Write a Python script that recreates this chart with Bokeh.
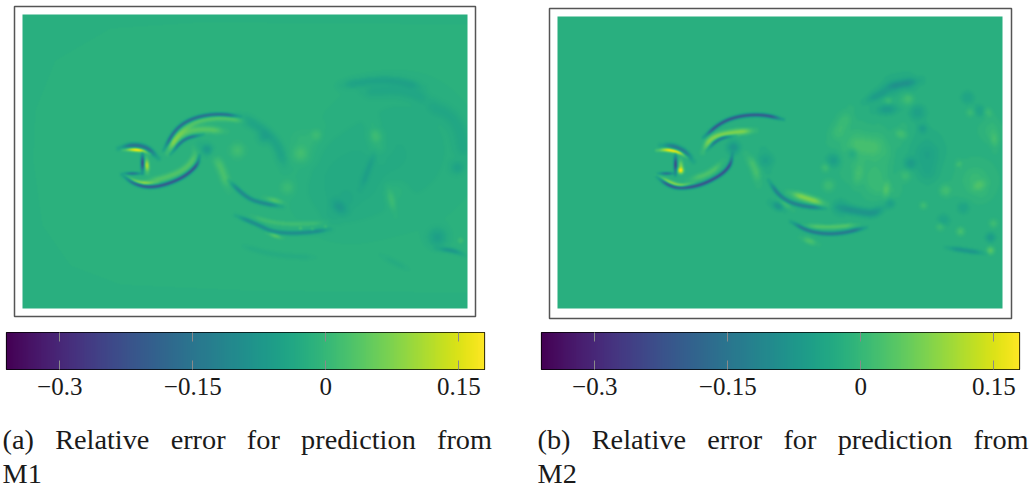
import numpy as np
from bokeh.plotting import figure
from bokeh.models import LinearColorMapper, Range1d, FixedTicker, LinearAxis
from bokeh.palettes import Viridis256
from bokeh.core.properties import value
from bokeh.embed import file_html
from bokeh.resources import INLINE

LOW, HIGH = -0.36, 0.179
TICKS = [-0.3, -0.15, 0, 0.15]
TICK_LABELS = ["\u22120.3", "\u22120.15", "0", "0.15"]
GAP = "\u00a0\u00a0\u00a0"
CAPTION_A = [GAP.join(["(a)", "Relative", "error", "for", "prediction", "from"]), "M1"]
CAPTION_B = [GAP.join(["(b)", "Relative", "error", "for", "prediction", "from"]), "M2"]
BACKGROUND = -0.02

# Error features: (polyline in picture pixels, error value, half width)
STRUCTURES_A = [
    ([(118,148),(133,144),(147,147),(158,158)], -0.16, 1.5),
    ([(122,149),(133,149),(143,150),(150,153)], 0.24, 1.1),
    ([(142,152),(142,173)], -0.30, 0.9),
    ([(146,157),(147,173)], 0.15, 1.4),
    ([(122,173),(142,173)], -0.20, 0.7),
    ([(122,174),(130,180),(143,183),(157,182)], 0.12, 1.3),
    ([(121,174),(133,183),(147,187),(163,185),(183,177),(197,165),(199,155)], -0.25, 1.0),
    ([(145,181),(163,178),(183,170),(195,157),(193,147)], 0.05, 2.2),
    ([(163,150),(175,128),(193,117),(217,113),(240,116)], -0.19, 1.0),
    ([(167,153),(177,133),(197,120),(223,117),(246,121)], 0.05, 1.9),
    ([(170,154),(183,138),(203,134)], -0.17, 0.9),
    ([(167,152),(180,133),(200,128),(226,131)], 0.055, 2.4),
    ([(237,115),(260,127),(277,143),(285,168)], -0.028, 3.5),
    ([(213,153),(222,170),(228,190)], 0.04, 3.2),
    ([(200,145),(213,153)], -0.05, 3.5),
    ([(237,150)], 0.03, 5.0),
    ([(228,180),(247,198),(263,203),(282,206)], -0.10, 1.3),
    ([(263,197),(285,203)], 0.05, 1.9),
    ([(235,215),(257,224),(273,232),(300,233),(330,229)], -0.09, 1.3),
    ([(250,215),(270,222),(295,224),(326,222)], 0.03, 1.7),
    ([(266,232),(283,238)], 0.06, 1.5),
    ([(400,150)], -0.012, 45.0),
    ([(340,185)], -0.012, 30.0),
    ([(305,125),(300,170)], 0.012, 9.0),
    ([(375,125),(378,160)], 0.012, 7.0),
    ([(395,190)], 0.01, 8.0),
    ([(340,85),(387,78),(423,87)], -0.03, 3.0),
    ([(360,92),(400,88),(430,100)], -0.02, 4.0),
    ([(423,103),(457,117),(465,160)], -0.018, 5.0),
    ([(300,153)], 0.025, 5.0),
    ([(320,127),(312,142)], 0.025, 4.0),
    ([(372,125),(378,145)], 0.028, 4.0),
    ([(287,187)], 0.025, 5.0),
    ([(263,137)], -0.025, 4.0),
    ([(387,185),(395,215)], 0.028, 2.8),
    ([(333,213),(345,200)], -0.04, 6.0),
    ([(437,237)], -0.038, 6.0),
    ([(435,248),(453,250),(465,255)], -0.06, 1.5),
    ([(460,240)], 0.03, 2.0),
    ([(457,167)], -0.028, 4.0),
    ([(375,150),(360,190)], -0.025, 2.2),
    ([(240,245),(275,255),(315,257)], -0.012, 1.8),
    ([(380,255),(410,270)], -0.01, 2.0),
    ([(300,228)], 0.045, 1.1),
    ([(312,229)], 0.045, 1.1),
    ([(325,226)], 0.035, 1.1),
]
# faint outline of the outer region in the first panel
OUTER_REGION_A = [(467,24),(200,22),(110,28),(55,60),(35,110),(33,160),(42,225),(70,265),(120,284),(250,290),(467,292)]
OUTER_STEP_A = 0.004

STRUCTURES_B = [
    ([(660,145),(672,145),(685,151),(693,161)], -0.13, 1.6),
    ([(656,150),(667,149),(680,152),(687,157)], 0.24, 1.1),
    ([(675,153),(675,175)], -0.30, 0.9),
    ([(680,158),(681,172)], 0.10, 1.4),
    ([(680,170)], 0.2, 1.9),
    ([(657,173),(675,173)], -0.2, 0.7),
    ([(656,175),(667,181),(680,186),(693,183)], 0.13, 1.3),
    ([(656,176),(668,185),(680,188),(700,185),(720,175),(730,165),(732,153)], -0.26, 1.0),
    ([(687,180),(710,173),(723,160)], 0.05, 2.2),
    ([(703,137),(720,122),(740,115),(763,114),(783,119)], -0.24, 1.0),
    ([(702,152),(710,137),(730,132),(755,130)], 0.10, 2.1),
    ([(706,150),(718,138),(735,135)], -0.17, 0.9),
    ([(745,153),(755,167),(758,185)], 0.04, 3.2),
    ([(733,147)], -0.055, 4.0),
    ([(763,150),(767,170)], -0.03, 5.0),
    ([(768,180),(780,197),(797,205),(825,208)], -0.12, 1.3),
    ([(788,192),(807,198),(826,204)], 0.1, 2.4),
    ([(770,202),(785,209)], -0.06, 2.6),
    ([(777,198),(793,210)], 0.035, 2.2),
    ([(790,221),(810,232),(837,234),(866,227)], -0.14, 1.2),
    ([(803,225),(830,227),(858,224)], 0.055, 1.6),
    ([(800,237),(818,244)], 0.045, 2.2),
    ([(837,207),(863,212),(873,213),(885,206)], -0.06, 2.8),
    ([(840,135),(865,150),(895,145)], 0.018, 14.0),
    ([(860,175),(890,185)], 0.02, 12.0),
    ([(975,180)], 0.018, 14.0),
    ([(990,130)], 0.015, 8.0),
    ([(890,100),(915,95)], 0.012, 8.0),
    ([(880,90),(920,82)], -0.02, 8.0),
    ([(925,150)], -0.012, 14.0),
    ([(850,108),(842,125),(832,142)], 0.025, 5.0),
    ([(845,143),(870,146),(885,150)], 0.025, 7.0),
    ([(903,127),(898,140)], 0.035, 4.5),
    ([(850,172),(866,175)], 0.03, 8.0),
    ([(880,188),(892,190)], 0.045, 5.5),
    ([(905,175)], 0.025, 4.0),
    ([(825,167)], 0.03, 3.0),
    ([(828,185)], 0.03, 4.0),
    ([(945,190)], 0.035, 4.0),
    ([(975,178),(982,192)], 0.035, 5.0),
    ([(957,160),(960,167)], 0.03, 2.5),
    ([(993,128),(995,150)], 0.03, 3.0),
    ([(982,105),(992,118)], 0.028, 3.0),
    ([(908,98)], 0.03, 4.0),
    ([(888,100)], 0.025, 2.8),
    ([(970,112)], 0.025, 3.0),
    ([(923,205)], 0.032, 2.6),
    ([(940,226)], 0.03, 3.0),
    ([(960,231)], 0.04, 3.0),
    ([(993,223)], 0.03, 3.0),
    ([(990,250)], 0.06, 2.6),
    ([(883,87),(920,80)], -0.05, 2.6),
    ([(863,102),(893,87)], -0.04, 3.0),
    ([(873,110),(900,108)], -0.045, 3.5),
    ([(917,112)], -0.035, 5.0),
    ([(922,128)], -0.035, 3.0),
    ([(927,140),(927,185)], -0.018, 7.0),
    ([(910,163)], -0.04, 4.0),
    ([(833,160)], -0.04, 4.5),
    ([(980,110)], -0.03, 4.0),
    ([(890,203)], -0.035, 3.0),
    ([(963,207)], -0.028, 4.0),
    ([(943,220)], -0.028, 4.0),
    ([(990,237)], -0.045, 3.0),
    ([(945,247),(985,253)], -0.06, 1.6),
    ([(967,97)], -0.028, 4.0),
    ([(852,153)], -0.028, 3.5),
    ([(840,207)], -0.028, 5.0),
]

W_A, H_A, X0_A, Y0_A = 445, 294, 22, 14
W_B, H_B, X0_B, Y0_B = 445, 292, 557, 16
mapper = LinearColorMapper(palette=Viridis256, low=LOW, high=HIGH)
SERIF = "Liberation Serif"


def pos(x, y):
    return {"position": "absolute", "left": f"{x}px", "top": f"{y}px"}


def seg_dist(px, py, a, b):
    ax, ay = a
    bx, by = b
    dx, dy = bx - ax, by - ay
    l2 = dx * dx + dy * dy
    if l2 == 0:
        return np.hypot(px - ax, py - ay), np.zeros(px.shape)
    t = np.clip(((px - ax) * dx + (py - ay) * dy) / l2, 0, 1)
    return np.hypot(px - ax - t * dx, py - ay - t * dy), t * np.sqrt(l2)


def in_polygon(px, py, poly):
    inside = np.zeros(px.shape, bool)
    n = len(poly)
    for i in range(n):
        x1, y1 = poly[i]
        x2, y2 = poly[(i + 1) % n]
        cond = (y1 > py) != (y2 > py)
        xc = x1 + (py - y1) * (x2 - x1) / (y2 - y1 if y2 != y1 else 1e-9)
        inside ^= cond & (px < xc)
    return inside


def rounded(pts, passes=3):
    pts = [tuple(map(float, q)) for q in pts]
    for _ in range(passes):
        if len(pts) < 3:
            return pts
        out = [pts[0]]
        for a, b in zip(pts[:-1], pts[1:]):
            out.append((0.75 * a[0] + 0.25 * b[0], 0.75 * a[1] + 0.25 * b[1]))
            out.append((0.25 * a[0] + 0.75 * b[0], 0.25 * a[1] + 0.75 * b[1]))
        out.append(pts[-1])
        pts = out
    return pts


def soften(g, sigma):
    r = int(3 * sigma) + 1
    k = np.exp(-np.arange(-r, r + 1) ** 2 / (2 * sigma * sigma))
    k /= k.sum()
    g = np.apply_along_axis(lambda v: np.convolve(np.pad(v, r, mode="edge"), k, "valid"), 0, g)
    return np.apply_along_axis(lambda v: np.convolve(np.pad(v, r, mode="edge"), k, "valid"), 1, g)


def stroke(px, py, pts, width):
    pts = rounded(pts)
    if len(pts) == 1:
        d, _ = seg_dist(px, py, pts[0], pts[0])
        return np.exp(-d * d / (2 * width * width))
    d = np.full(px.shape, 1e9)
    along = np.zeros(px.shape)
    start = 0.0
    for a, b in zip(pts[:-1], pts[1:]):
        di, si = seg_dist(px, py, a, b)
        closer = di < d
        d = np.where(closer, di, d)
        along = np.where(closer, start + si, along)
        start += np.hypot(b[0] - a[0], b[1] - a[1])
    # strokes fade out towards their ends, as the wake structures do
    fade_len = min(14.0, start / 2 + 1e-6)
    edge = np.clip(np.minimum(along, start - along) / fade_len, 0, 1)
    fade = 0.2 + 0.8 * edge * edge * (3 - 2 * edge)
    return fade * np.exp(-d * d / (2 * width * width))


def field(w, h, x0, y0, structures, region=None, step=0.0, level=0.006):
    px, py = np.meshgrid(np.arange(w) + x0 + 0.5, np.arange(h) + y0 + 0.5)
    g = np.zeros((h, w), float)
    for pts, val, width in structures:
        g += val * stroke(px, py, pts, width)
    low_part = np.abs(g) < 0.05
    g[low_part] = np.round(g[low_part] / level) * level
    g = soften(g, 0.85) + BACKGROUND
    if region is not None:
        g[in_polygon(px, py, region)] += step
    return np.flipud(g)


def heat(grid, w, h, left, top, fw, fh, pad_l, pad_b):
    p = figure(width=fw + 4, height=fh + 4, output_backend="svg", toolbar_location=None,
               x_range=Range1d(-pad_l, fw - pad_l), y_range=Range1d(-pad_b, fh - pad_b),
               x_axis_location=None, y_axis_location=None,
               min_border_left=2, min_border_right=2, min_border_top=2, min_border_bottom=2,
               styles=pos(left - 2, top - 2))
    p.grid.visible = False
    p.outline_line_color = "#555555"
    p.outline_line_width = 1.5
    p.image(image=[grid], x=0, y=0, dw=w, dh=h, color_mapper=mapper)
    return p


def colorbar(left, top, fw, fh):
    p = figure(width=fw + 40, height=fh + 62, output_backend="svg", toolbar_location=None,
               x_range=Range1d(LOW, HIGH), y_range=Range1d(0, 1),
               x_axis_location=None, y_axis_location=None,
               min_border_left=20, min_border_right=20, min_border_top=2, min_border_bottom=60,
               styles=pos(left - 20, top - 2))
    p.grid.visible = False
    p.outline_line_color = "black"
    p.outline_line_width = 1.2
    ramp = np.linspace(LOW, HIGH, 256)[None, :]
    p.image(image=[ramp], x=LOW, y=0, dw=HIGH - LOW, dh=1, color_mapper=mapper)
    for loc in ("below", "above"):
        ax = LinearAxis(ticker=FixedTicker(ticks=TICKS))
        ax.axis_line_color = None
        ax.major_tick_line_color = "#8a8a8a"
        ax.major_tick_line_width = 1
        ax.major_tick_in = 9
        ax.major_tick_out = 0
        ax.minor_tick_line_color = None
        if loc == "below":
            ax.major_label_overrides = dict(zip(TICKS, TICK_LABELS))
            ax.major_label_text_font = SERIF
            ax.major_label_text_font_size = "25px"
            ax.major_label_text_color = "#1a1a1a"
            ax.major_label_standoff = 8
        else:
            ax.major_label_text_font_size = "0px"
            ax.major_label_text_color = None
            ax.major_label_standoff = 0
        p.add_layout(ax, loc)
    return p


def caption(lines, left, top):
    w, h = 510, 68
    p = figure(width=w, height=h, output_backend="svg", toolbar_location=None,
               x_range=Range1d(0, w), y_range=Range1d(h, 0),
               x_axis_location=None, y_axis_location=None,
               min_border_left=0, min_border_right=0, min_border_top=0, min_border_bottom=0,
               styles=pos(left, top))
    p.grid.visible = False
    p.outline_line_color = None
    p.background_fill_color = None
    p.border_fill_color = None
    p.text(x=[0, 0], y=[18, 52], text=lines, text_font=value(SERIF), text_font_size="28.3px",
           text_color="#1a1a1a", text_baseline="middle", text_align="left")
    return p


grid_a = field(W_A, H_A, X0_A, Y0_A, STRUCTURES_A, OUTER_REGION_A, OUTER_STEP_A, 0.005)
grid_b = field(W_B, H_B, X0_B, Y0_B, STRUCTURES_B, level=0.008)

roots = [
    heat(grid_a, W_A, H_A, 14, 6, 461, 310, 8, 8),
    colorbar(6, 332, 478, 37),
    caption(CAPTION_A, 2, 421),
    heat(grid_b, W_B, H_B, 549, 8, 462, 310, 8, 10),
    colorbar(541, 332, 478, 37),
    caption(CAPTION_B, 537, 421),
]

open("out.html", "w").write(file_html(roots, INLINE))
